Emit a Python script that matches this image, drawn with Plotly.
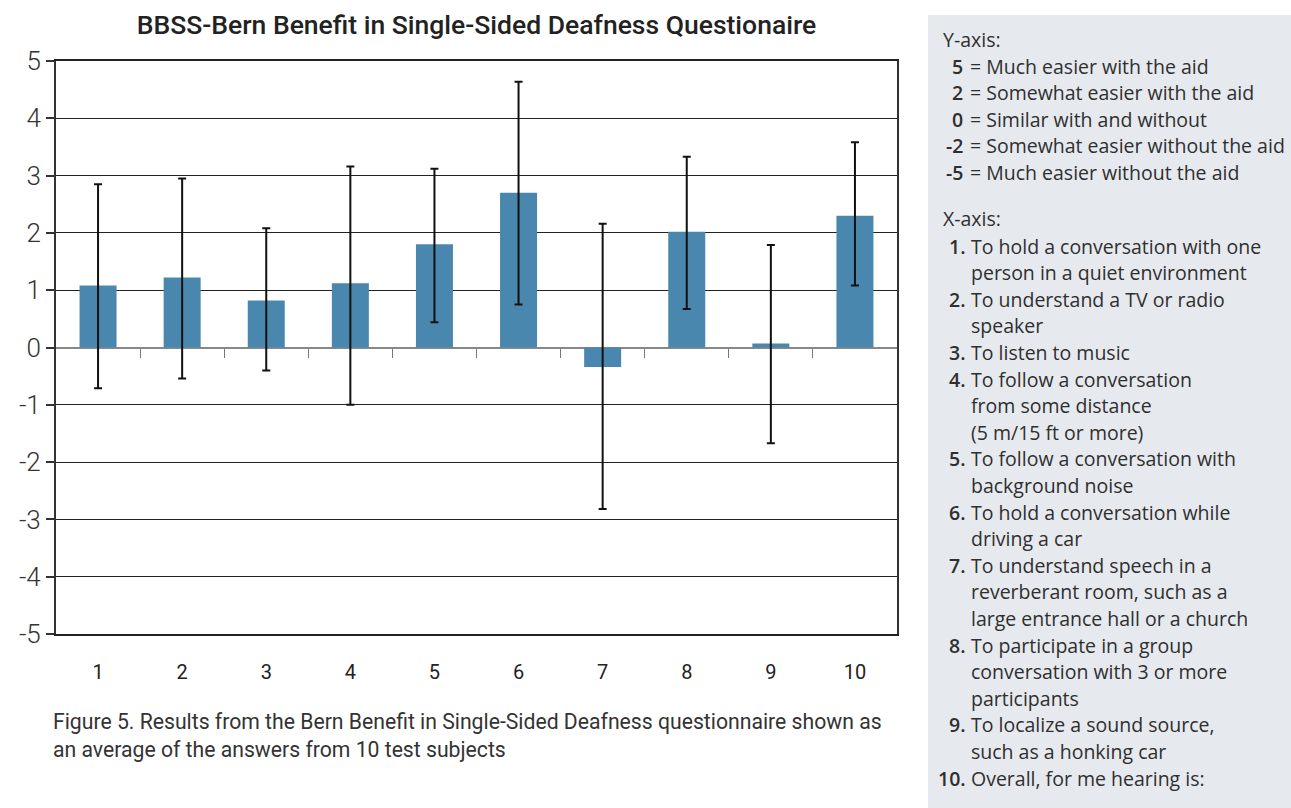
import plotly.graph_objects as go

# ---- data ----
questions = [1, 2, 3, 4, 5, 6, 7, 8, 9, 10]
mean_score = [1.08, 1.22, 0.82, 1.12, 1.80, 2.70, -0.34, 2.02, 0.07, 2.30]
err_high = [2.85, 2.95, 2.08, 3.16, 3.12, 4.64, 2.16, 3.33, 1.79, 3.58]
err_low = [-0.71, -0.54, -0.40, -1.00, 0.44, 0.75, -2.82, 0.67, -1.67, 1.08]
y_ticks = [5, 4, 3, 2, 1, 0, -1, -2, -3, -4, -5]

title_text = "BBSS-Bern Benefit in Single-Sided Deafness Questionaire"
caption_lines = [
    "Figure 5. Results from the Bern Benefit in Single-Sided Deafness questionnaire shown as",
    "an average of the answers from 10 test subjects",
]
y_legend_vals = ["5", "2", "0", "-2", "-5"]
y_legend_text = [
    "= Much easier with the aid",
    "= Somewhat easier with the aid",
    "= Similar with and without",
    "= Somewhat easier without the aid",
    "= Much easier without the aid",
]
x_legend_text = [
    ["To hold a conversation with one", "person in a quiet environment"],
    ["To understand a TV or radio", "speaker"],
    ["To listen to music"],
    ["To follow a conversation", "from some distance", "(5 m/15 ft or more)"],
    ["To follow a conversation with", "background noise"],
    ["To hold a conversation while", "driving a car"],
    ["To understand speech in a", "reverberant room, such as a", "large entrance hall or a church"],
    ["To participate in a group", "conversation with 3 or more", "participants"],
    ["To localize a sound source,", "such as a honking car"],
    ["Overall, for me hearing is:"],
]

# ---- layout geometry (pixels) ----
W, H = 1291, 808
PL, PR, PT, PB = 56, 897, 61, 634


def px(x):
    return (x - PL) / (PR - PL)


def py(y):
    return (PB - y) / (PB - PT)


BAR = "#4a87ae"
NARROW = "Roboto, sans-serif"
PANEL_FONT = "Open Sans, Lato, sans-serif"

fig = go.Figure()
fig.add_trace(go.Bar(
    x=questions,
    y=mean_score,
    marker=dict(color=BAR, line=dict(width=0)),
    width=0.44,
    error_y=dict(
        type="data",
        symmetric=False,
        array=[h - m for h, m in zip(err_high, mean_score)],
        arrayminus=[m - l for m, l in zip(mean_score, err_low)],
        color="#111111",
        thickness=2,
        width=4,
    ),
    hoverinfo="skip",
))

fig.update_layout(
    width=W, height=H,
    margin=dict(l=PL, r=W - PR, t=PT, b=H - PB, pad=0),
    paper_bgcolor="white",
    plot_bgcolor="white",
    showlegend=False,
    bargap=0.56,
    title=dict(
        text=title_text,
        x=px((PL + PR) / 2), xref="paper", xanchor="center",
        y=1 - 25 / H, yref="container", yanchor="middle",
        font=dict(family=NARROW, size=26.5, color="#222222", weight=500),
    ),
    xaxis=dict(
        range=[0.5, 10.5],
        tickvals=questions,
        ticktext=[str(q) for q in questions],
        showgrid=False,
        zeroline=False,
        showline=True, mirror=True, linecolor="#222222", linewidth=2,
        ticks="",
        ticklabelstandoff=19,
        tickfont=dict(family=NARROW, size=20, color="#222222"),
    ),
    xaxis2=dict(
        overlaying="x",
        anchor="free",
        position=0.5,
        range=[0.5, 10.5],
        tickvals=[q + 0.5 for q in questions[:-1]],
        showticklabels=False,
        showgrid=False,
        zeroline=False,
        showline=False,
        ticks="outside", ticklen=9, tickwidth=1, tickcolor="#777777",
    ),
    yaxis=dict(
        range=[-5, 5],
        tickvals=y_ticks,
        ticktext=[str(v) for v in y_ticks],
        showgrid=True, gridcolor="#222222", gridwidth=1,
        zeroline=True, zerolinecolor="#888888", zerolinewidth=2,
        showline=True, mirror=True, linecolor="#333333", linewidth=2,
        ticks="outside", ticklen=8, tickwidth=2, tickcolor="#333333",
        tickfont=dict(family=NARROW, size=26, color="#333333", weight=300),
    ),
)

# invisible trace so the zero-line tick axis is drawn
fig.add_trace(go.Scatter(x=[], y=[], xaxis="x2", hoverinfo="skip", showlegend=False))

# caption
fig.add_annotation(
    text="<br>".join(caption_lines),
    xref="paper", yref="paper",
    x=px(51), y=py(707), xanchor="left", yanchor="top",
    align="left", showarrow=False,
    font=dict(family=NARROW, size=21.2, color="#333333"),
)

# right panel
fig.add_shape(
    type="rect", xref="paper", yref="paper",
    x0=px(928), x1=px(W), y0=py(15), y1=py(H + 5),
    fillcolor="#e6eaee", line=dict(width=0), layer="below",
)

PANEL_SIZE = 19.5
PANEL_COLOR = "#2f2f2f"
LINE_H = 26.6


def panel_text(x, y, text, anchor="left", bold=False, weight=None):
    w = weight if weight is not None else (600 if bold else "normal")
    fig.add_annotation(
        text=text, xref="paper", yref="paper",
        x=px(x), y=py(y), xanchor=anchor, yanchor="middle",
        showarrow=False, align=anchor, borderpad=0,
        font=dict(family=PANEL_FONT, size=PANEL_SIZE, color=PANEL_COLOR, weight=w),
    )


panel_text(942, 40, "Y-axis:", weight=500)
yy = 66
for v, t in zip(y_legend_vals, y_legend_text):
    panel_text(964, yy, v, anchor="right", bold=True)
    panel_text(969, yy, t)
    yy += LINE_H

panel_text(942, 218, "X-axis:", weight=500)
yy = 246
for i, lines in enumerate(x_legend_text, start=1):
    panel_text(967, yy, f"{i}.", anchor="right", bold=True)
    for ln in lines:
        panel_text(970, yy, ln)
        yy += LINE_H

fig.write_html("out.html")
